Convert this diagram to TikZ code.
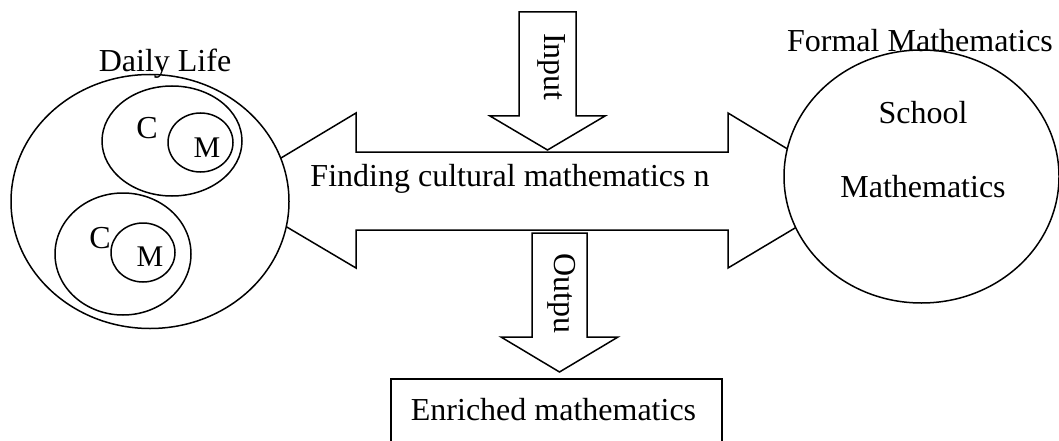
\documentclass[tikz,border=0pt]{standalone}
\usepackage{fontspec}
\setmainfont{Liberation Serif}
\usetikzlibrary{shapes.geometric}
\tikzset{
  shp/.style={draw=black, fill=white, line width=1.5pt, line join=miter},
  oval/.style={ellipse, draw=black, fill=white, line width=1.5pt, inner sep=0pt},
  lbl/.style={anchor=base, inner sep=0pt, font=\fontsize{32}{38}\selectfont},
  sml/.style={anchor=base, inner sep=0pt, font=\fontsize{30}{36}\selectfont},
  vlbl/.style={rotate=-90, inner sep=0pt, font=\fontsize{32}{38}\selectfont},
}
\begin{document}
\begin{tikzpicture}[x=1pt, y=-1pt]
\useasboundingbox (0,0) rectangle (1059,441);
\clip (0,0) rectangle (1059,441);
\fill[white] (0,0) rectangle (1059,441);

% double arrow
\draw[shp] (226,191) -- (356,113) -- (356,152) -- (728,152) -- (728,113) -- (857,191)
  -- (728,268) -- (728,230) -- (356,230) -- (356,268) -- cycle;
\node[lbl] (finding) at (510,186) {Finding cultural mathematics n};

% left ellipse group
\node[oval, minimum width=278pt, minimum height=254pt] (daily) at (150,201.5) {};
\node[oval, minimum width=140pt, minimum height=110pt] (c1) at (172,141) {};
\node[oval, minimum width=65pt, minimum height=59pt] (m1) at (200.5,142.5) {};
\node[oval, minimum width=136pt, minimum height=122pt] (c2) at (123,254) {};
\node[oval, minimum width=64pt, minimum height=59pt] (m2) at (143,252.5) {};
\node[lbl] (c1t) at (147,139) {C};
\node[sml] (m1t) at (207,157) {M};
\node[lbl] (c2t) at (100,248) {C};
\node[sml] (m2t) at (150,266) {M};
\node[lbl] (dailyt) at (165,72) {Daily Life};

% right ellipse
\node[oval, minimum width=275pt, minimum height=253pt] (formal) at (921.5,176.5) {};
\node[lbl] (formalt) at (920,52) {Formal Mathematics};
\node[lbl] (school) at (923,124) {School};
\node[lbl] (mathem) at (923,197) {Mathematics};

% input arrow
\draw[shp] (519,12) -- (576,12) -- (576,116) -- (605,116) -- (547.5,150) -- (490,116) -- (519,116) -- cycle;
\node[vlbl] (input) at (552,67) {Input};

% output arrow
\draw[shp] (532,233) -- (587,233) -- (587,337) -- (618,337) -- (559.5,372) -- (501,337) -- (532,337) -- cycle;
\node[vlbl] (output) at (562,293) {Outpu};

% enriched box
\draw[shp] (391,379) rectangle (722,470);
\node[lbl] (enriched) at (553.5,420) {Enriched mathematics};
\end{tikzpicture}
\end{document}
